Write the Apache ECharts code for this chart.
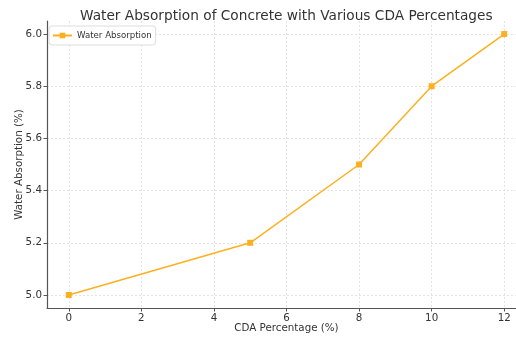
<!DOCTYPE html>
<html>
<head>
<meta charset="utf-8">
<script src="https://cdn.jsdelivr.net/npm/echarts@6/dist/echarts.min.js"></script>
<style>
  html, body { margin: 0; padding: 0; background: #fff; }
  #chart { width: 516px; height: 339px; }
</style>
</head>
<body>
<div id="chart"></div>
<script>
// CDA replacement level (%) and measured water absorption (%)
const cdaPercent = [0, 5, 8, 10, 12];
const waterAbsorption = [5.0, 5.2, 5.5, 5.8, 6.0];

// Tick positions for both axes
const xTicks = [0, 2, 4, 6, 8, 10, 12];
const yTicks = [5.0, 5.2, 5.4, 5.6, 5.8, 6.0];

const FONT = 'DejaVu Sans';
const ORANGE = '#FDB01F';
const TEXT = '#333333';

const chart = echarts.init(document.getElementById('chart'), null, { renderer: 'canvas' });

chart.setOption({
  animation: false,
  backgroundColor: '#ffffff',
  title: {
    text: 'Water Absorption of Concrete with Various CDA Percentages',
    left: 75,
    top: 4,
    textStyle: { fontFamily: FONT, fontSize: 13.7, fontWeight: 'normal', color: TEXT }
  },
  legend: {
    left: 49,
    top: 26,
    orient: 'vertical',
    itemWidth: 19,
    itemHeight: 7,
    itemGap: 4,
    padding: [5, 4, 5, 3],
    borderColor: '#dddddd',
    borderWidth: 1,
    borderRadius: 3,
    backgroundColor: '#ffffff',
    textStyle: { fontFamily: FONT, fontSize: 8.6, color: TEXT },
    data: ['Water Absorption']
  },
  grid: {
    left: 47, right: -10, top: 21, bottom: 31,
    containLabel: false,
    outerBoundsMode: 'none'
  },
  xAxis: {
    type: 'value',
    min: -0.6,
    max: 12.6,
    name: 'CDA Percentage (%)',
    nameLocation: 'middle',
    nameGap: 15.5,
    nameMoveOverlap: false,
    nameTextStyle: { fontFamily: FONT, fontSize: 10.3, color: TEXT },
    axisLine: { show: true, onZero: false, lineStyle: { color: '#555', width: 1.2 } },
    axisTick: { show: true, customValues: xTicks, length: 3.5, lineStyle: { color: '#555' } },
    axisLabel: {
      customValues: xTicks,
      fontFamily: FONT, fontSize: 10.3, color: TEXT, margin: 5,
      formatter: v => String(Math.round(v))
    },
    splitLine: { show: true, lineStyle: { color: '#dcdcdc', type: [2, 2], width: 0.8 } }
  },
  yAxis: {
    type: 'value',
    min: 4.95,
    max: 6.05,
    name: 'Water Absorption (%)',
    nameLocation: 'middle',
    nameGap: 23,
    nameMoveOverlap: false,
    nameTextStyle: { fontFamily: FONT, fontSize: 10.3, color: TEXT },
    axisLine: { show: true, onZero: false, lineStyle: { color: '#555', width: 1.2 } },
    axisTick: { show: true, customValues: yTicks, length: 3.5, lineStyle: { color: '#555' } },
    axisLabel: {
      customValues: yTicks,
      fontFamily: FONT, fontSize: 10.3, color: TEXT, margin: 5,
      formatter: v => v.toFixed(1)
    },
    splitLine: { show: true, lineStyle: { color: '#dcdcdc', type: [2, 2], width: 0.8 } }
  },
  series: [{
    name: 'Water Absorption',
    type: 'line',
    data: cdaPercent.map((x, i) => [x, waterAbsorption[i]]),
    symbol: 'rect',
    symbolSize: 6,
    lineStyle: { color: ORANGE, width: 1.5 },
    itemStyle: { color: ORANGE }
  }]
});
</script>
</body>
</html>
